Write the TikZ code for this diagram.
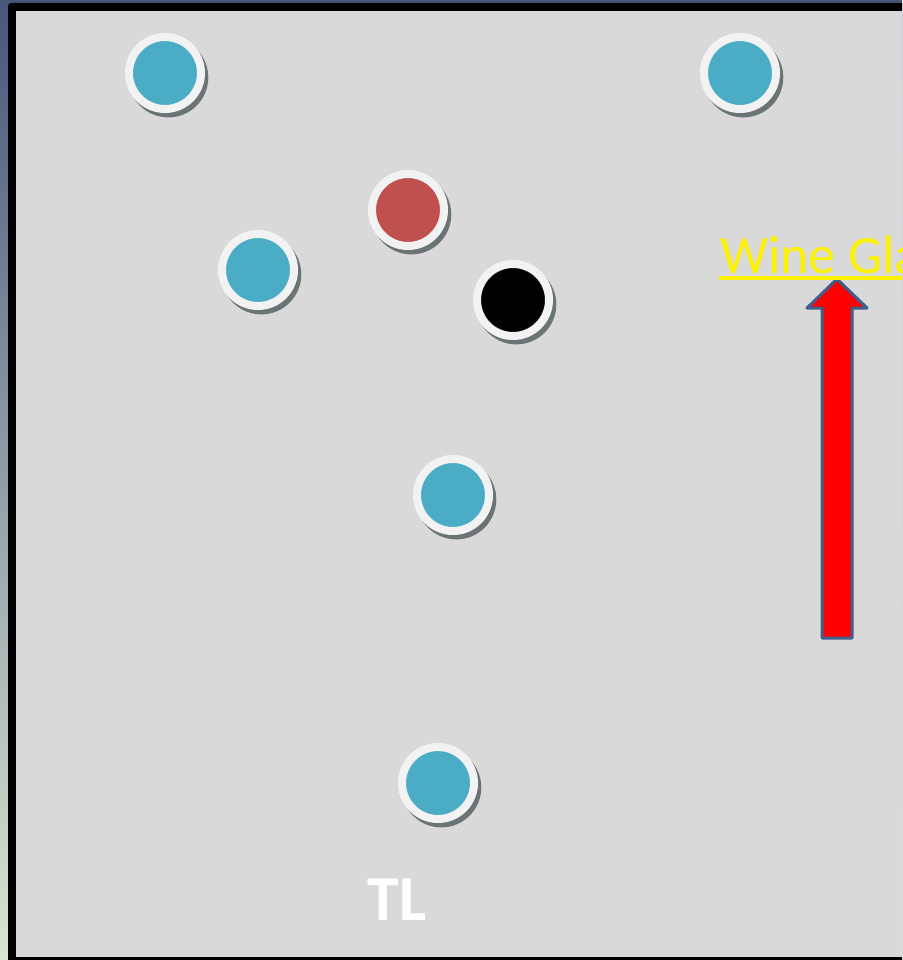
\documentclass[tikz,border=0pt]{standalone}
\usepackage{fontspec}
\setmainfont{Carlito}
\usetikzlibrary{shadows, calc}
\definecolor{ballblue}{HTML}{4BACC6}
\definecolor{ballred}{HTML}{C0504D}
\definecolor{ringwhite}{HTML}{F2F2F2}
\definecolor{shadowgray}{HTML}{6B7474}
\definecolor{fieldgray}{HTML}{D9D9D9}
\definecolor{arrowedge}{HTML}{3F5F8A}
\definecolor{topblue}{HTML}{47577A}
\definecolor{bottomgreen}{HTML}{DCE4D2}
\begin{document}
\begin{tikzpicture}[
  x=1pt, y=-1pt,
  ball/.style={circle, draw=ringwhite, line width=8pt, fill=#1, minimum size=72pt, inner sep=0pt,
    general shadow={fill=shadowgray, shadow scale=1.11, shadow xshift=3pt, shadow yshift=-4pt}},
  ball/.default=ballblue
  ]
  \useasboundingbox (0,0) rectangle (902,960);
  \clip (0,0) rectangle (902,960);
  % backdrop and frame
  \shade[top color=topblue, bottom color=bottomgreen] (0,0) rectangle (902,960);
  \fill[black, rounded corners=3pt] (8,3) rectangle (920,970);
  \fill[fieldgray] (16,11) rectangle (920,957);
  % players
  \node[ball] (p1) at (165,73) {};
  \node[ball] (p2) at (740,73) {};
  \node[ball=ballred] (red) at (408,210) {};
  \node[ball] (p3) at (258,270) {};
  \node[ball=black] (cue) at (513,300) {};
  \node[ball] (p4) at (453,495) {};
  \node[ball] (p5) at (438,783) {};
  % arrow to the label
  \draw[arrowedge, line width=3pt, fill=red, line join=round]
    (822,638) -- (822,308) -- (807,308) -- (837,279) -- (867,308) -- (852,308) -- (852,638) -- cycle;
  \node[anchor=base west, inner sep=0pt, text=yellow, font=\fontsize{54}{60}\selectfont] (wine) at (720,273) {Wine Glass};
  \draw[yellow, line width=4pt] (719,278) -- (930,278);
  \node[anchor=base, inner sep=0pt, text=white, font=\bfseries\fontsize{64}{70}\selectfont] (tl) at (397,920) {TL};
\end{tikzpicture}
\end{document}
